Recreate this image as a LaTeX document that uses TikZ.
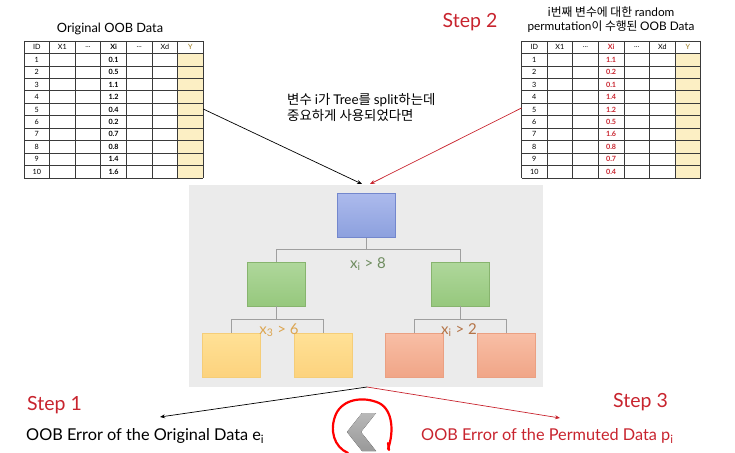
\documentclass[tikz,border=0pt]{standalone}
\usepackage{fontspec}
\setmainfont{Lato}
\newfontfamily\kr{Noto Sans CJK KR}
\usetikzlibrary{arrows.meta}
\definecolor{stepred}{HTML}{C8242E}
\definecolor{boxgrey}{HTML}{EBEBEB}
\definecolor{yfill}{HTML}{FCEFC4}
\definecolor{ycol}{HTML}{9A7A20}
\definecolor{tline}{HTML}{3A3A3A}
\tikzset{
  tl/.style={draw=tline,line width=0.7pt},
  cell/.style={font=\fontsize{7.2}{8}\selectfont,inner sep=0pt},
  treebox/.style={minimum width=58pt,minimum height=44pt,inner sep=0pt,line width=0.6pt},
  blue box/.style={treebox,draw={rgb,255:red,115;green,135;blue,205},top color={rgb,255:red,172;green,186;blue,236},bottom color={rgb,255:red,140;green,160;blue,222}},
  green box/.style={treebox,draw={rgb,255:red,135;green,180;blue,110},top color={rgb,255:red,175;green,215;blue,155},bottom color={rgb,255:red,150;green,200;blue,125}},
  yel box/.style={treebox,draw={rgb,255:red,245;green,205;blue,120},top color={rgb,255:red,255;green,225;blue,150},bottom color={rgb,255:red,252;green,210;blue,125}},
  ora box/.style={treebox,draw={rgb,255:red,235;green,160;blue,130},top color={rgb,255:red,248;green,190;blue,165},bottom color={rgb,255:red,240;green,165;blue,135}},
  branch/.style={draw=gray!75,line width=0.8pt},
  conn/.style={line width=0.7pt,-{Stealth[length=5pt,width=4pt]}},
  steptxt/.style={font=\fontsize{19.5}{22}\selectfont,text=stepred,inner sep=0pt},
  errtxt/.style={font=\fontsize{16.3}{18}\selectfont,inner sep=0pt},
  condtxt/.style={font=\fontsize{15}{17}\selectfont},
  scribble/.style={red,line width=2.2pt,line cap=round}
}
\newcommand\oobtable[4]{%
 \begin{scope}[shift={(#2,41)}]
  \fill[yfill] (6*25.6,12.45) rectangle (7*25.6,11*12.45);
  \foreach \c in {0,...,7} \draw[tl] (\c*25.6,0) -- (\c*25.6,136.95);
  \foreach \r in {0,...,11} \draw[tl] (0,\r*12.45) -- (179.2,\r*12.45);
  \node[cell] (#1-h0) at (12.8,6.2) {ID};
  \node[cell] (#1-h1) at (38.4,6.2) {X1};
  \node[cell] (#1-h2) at (64,6.2) {...};
  \node[cell,font=\fontsize{7.2}{8}\selectfont\bfseries,text=#4] (#1-h3) at (89.6,6.2) {Xi};
  \node[cell] (#1-h4) at (115.2,6.2) {...};
  \node[cell] (#1-h5) at (140.8,6.2) {Xd};
  \node[cell,text=ycol] (#1-h6) at (166.4,6.2) {Y};
  \foreach \v [count=\i] in {#3} {
    \node[cell] (#1-id\i) at (12.8,\i*12.45+6.2) {\i};
    \node[cell,font=\fontsize{7.2}{8}\selectfont\bfseries,text=#4] (#1-v\i) at (89.6,\i*12.45+6.2) {\v};
  }
  \coordinate (#1-E) at (179.2,68);
  \coordinate (#1-W) at (0,67);
 \end{scope}}
\begin{document}
\begin{tikzpicture}[x=1pt,y=-1pt]
\useasboundingbox (0,0) rectangle (735,452);
% tables
\oobtable{L}{24}{0.1,0.5,1.1,1.2,0.4,0.2,0.7,0.8,1.4,1.6}{black}
\oobtable{R}{521.5}{1.1,0.2,0.1,1.4,1.2,0.5,1.6,0.8,0.7,0.4}{stepred}
\node[font=\fontsize{12.8}{14}\selectfont] (Ltitle) at (110,29) {Original OOB Data};
\node[font=\fontsize{11.8}{14}\selectfont,align=center,inner sep=0pt] (Rtitle) at (611,20)
 {{\kr i번째 변수에 대한 }random\\[0pt] permutation{\kr 이 수행된 }OOB Data};
\node[steptxt] (step2) at (470,22) {Step 2};
\node[font=\fontsize{13.4}{16}\selectfont,align=left,inner sep=0pt,anchor=west] (cond) at (287,107)
 {{\kr 변수 }i{\kr 가 }Tree{\kr 를 }split{\kr 하는데}\\{\kr 중요하게 사용되었다면}};
% tree panel
\node[fill=boxgrey,minimum width=354pt,minimum height=202pt,inner sep=0pt] (panel) at (366,286) {};
\coordinate (pb) at (367,387);
\node[blue box] (n0) at (366,215.5) {};
\node[green box] (n1) at (276.5,284) {};
\node[green box] (n2) at (460,284) {};
\node[yel box] (n3) at (231.5,355.5) {};
\node[yel box] (n4) at (323,355.5) {};
\node[ora box] (n5) at (414,355.5) {};
\node[ora box] (n6) at (506,355.5) {};
\draw[branch] (n0.south) -- ++(0,12) -| (n1.north);
\draw[branch] (n0.south) -- ++(0,12) -| (n2.north);
\draw[branch] (n1.south) -- ++(0,13) -| (n3.north);
\draw[branch] (n1.south) -- ++(0,13) -| (n4.north);
\draw[branch] (n2.south) -- ++(0,13) -| (n5.north);
\draw[branch] (n2.south) -- ++(0,13) -| (n6.north);
\node[condtxt,text={rgb,255:red,110;green,140;blue,95}] (c0) at (368,264) {x\textsubscript{i} > 8};
\node[condtxt,text={rgb,255:red,220;green,165;blue,80}] (c1) at (279,330) {x\textsubscript{3} > 6};
\node[condtxt,text={rgb,255:red,180;green,115;blue,70}] (c2) at (459,330) {x\textsubscript{i} > 2};
% arrows in
\coordinate (pta) at (362,184);
\coordinate (ptb) at (370,184);
\draw[conn,black] (L-E) -- (pta);
\draw[conn,stepred] (R-W) -- (ptb);
% bottom
\node[steptxt,anchor=west] (step1) at (27,405) {Step 1};
\node[steptxt,anchor=west] (step3) at (613,402) {Step 3};
\node[errtxt,anchor=west] (e1) at (26,436) {OOB Error of the Original Data e\textsubscript{i}};
\node[errtxt,anchor=west,text=stepred] (e2) at (421,436) {OOB Error of the Permuted Data p\textsubscript{i}};
\coordinate (a1) at (160,417);
\coordinate (a2) at (560,418);
\draw[conn,black] (pb) -- (a1);
\draw[conn,stepred] (pb) -- (a2);
% chevron and red loop
\fill[top color=gray!55,bottom color=gray!80] (362,413) -- (376,413) -- (361,432) -- (376,451) -- (362,451) -- (347,432) -- cycle;
\draw[scribble] (388,449) .. controls (394,432) and (393,410) .. (379,403) .. controls (363,396) and (343,399) .. (336,414) .. controls (329,430) and (334,447) .. (348,453);
\draw[scribble] (388,443) -- (389,450);
\end{tikzpicture}
\end{document}
